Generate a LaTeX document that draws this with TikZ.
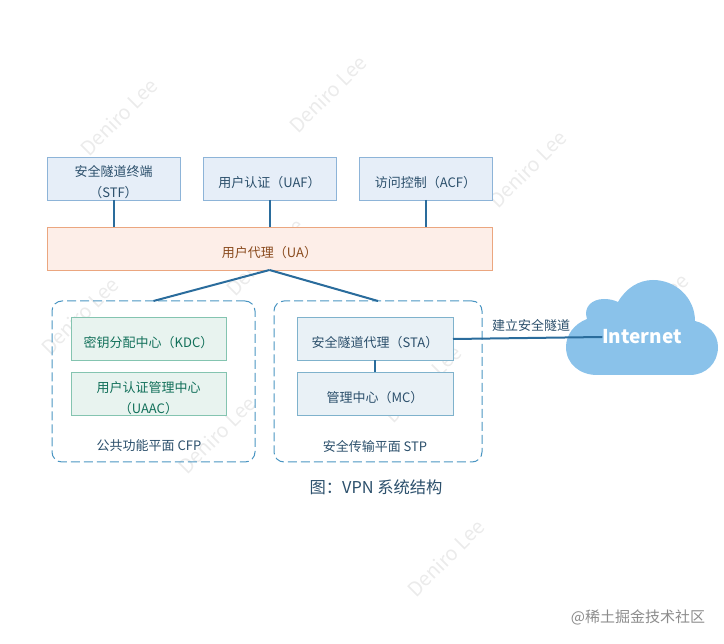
\documentclass[tikz,border=0pt]{standalone}
\usepackage{xcolor}
\usepackage{fontspec}
\setmainfont{Noto Sans CJK SC}
\usepackage{tikz}
\usetikzlibrary{
  positioning,
  calc
}
\definecolor{vpnLine}{HTML}{2A6C9C}
\definecolor{vpnInk}{HTML}{2B4F6B}
\definecolor{vpnDash}{HTML}{4A95C2}
\definecolor{vpnCloud}{HTML}{8AC2EA}
\definecolor{vpnBlueFill}{HTML}{E6EEF8}
\definecolor{vpnBlueEdge}{HTML}{8DB4D8}
\definecolor{vpnPaleFill}{HTML}{E9F1F6}
\definecolor{vpnPaleEdge}{HTML}{7FB2CC}
\definecolor{vpnOrangeFill}{HTML}{FDEEE8}
\definecolor{vpnOrangeEdge}{HTML}{EBA67F}
\definecolor{vpnOrangeInk}{HTML}{8A4B1E}
\definecolor{vpnGreenFill}{HTML}{E8F3EF}
\definecolor{vpnGreenEdge}{HTML}{84C4B0}
\definecolor{vpnGreenInk}{HTML}{12705A}
\definecolor{vpnMark}{HTML}{EBEBEB}
\newcommand{\lowline}{\rule{0pt}{19pt}}
\tikzset{
  vpnnode/.style={
    draw, outer sep=0pt, inner sep=0pt, minimum height=43pt, line width=0.8pt,
    font=\fontsize{13}{21}\selectfont, align=center
  },
  funcbox/.style={vpnnode, fill=vpnBlueFill, draw=vpnBlueEdge, text=vpnInk, minimum width=133pt},
  agentbox/.style={vpnnode, fill=vpnOrangeFill, draw=vpnOrangeEdge, text=vpnOrangeInk, minimum width=445pt},
  cfpbox/.style={vpnnode, fill=vpnGreenFill, draw=vpnGreenEdge, text=vpnGreenInk, minimum width=155pt},
  stpbox/.style={vpnnode, fill=vpnPaleFill, draw=vpnPaleEdge, text=vpnInk, minimum width=156pt},
  plane/.style={
    draw=vpnDash, dash pattern=on 9pt off 4pt, rounded corners=10pt, line width=1pt,
    outer sep=0pt, minimum height=161pt
  },
  planetag/.style={font=\fontsize{13}{15}\selectfont, text=vpnInk},
  link/.style={line width=2pt, vpnLine},
  wmark/.style={font=\fontsize{20}{20}\selectfont, text=vpnMark, rotate=45}
}

\begin{document}
\begin{tikzpicture}[x=1pt, y=-1pt]
  \useasboundingbox (0,0) rectangle (724,644);
  % watermarks
  \foreach \x/\y in {119/117, 328/94, 528/169, 80/316, 265/257, 217/435, 423/384, 650/312, 446/558}{
    \node[wmark] at (\x,\y) {Deniro Lee};
  }
  % top row
  \node[funcbox] (stf) at (113.5,178.5) {\lowline 安全隧道终端\\（STF）};
  \node[funcbox, right=23pt of stf] (uaf) {\lowline 用户认证（UAF）};
  \node[funcbox, right=23pt of uaf] (acf) {\lowline 访问控制（ACF）};
  \node[agentbox] (ua) at (269.5,248.5) {\lowline 用户代理（UA）};
  % planes
  \node[plane, minimum width=203pt] (cfp) at (153.5,381.5) {};
  \node[plane, minimum width=208pt] (stp) at (378,381.5) {};
  \node[cfpbox] (kdc) at (148.5,339) {\lowline 密钥分配中心（KDC）};
  \node[cfpbox, below=12pt of kdc] (uaac) {\lowline 用户认证管理中心\\（UAAC）};
  \node[stpbox] (sta) at (375,339) {\lowline 安全隧道代理（STA）};
  \node[stpbox, below=12pt of sta] (mc) {\lowline 管理中心（MC）};
  \node[planetag] (cfptag) at (149,446) {公共功能平面 CFP};
  \node[planetag] (stptag) at (375,446) {安全传输平面 STP};
  \node[font=\fontsize{16.3}{18}\selectfont, text=vpnInk] (title) at (376,487) {图：VPN 系统结构};
  % cloud
  \fill[vpnCloud] (597,375) .. controls (580,375) and (566,364) .. (566,347)
    .. controls (566,335) and (574,324) .. (587,319)
    .. controls (583,307) and (592,299) .. (604,299)
    .. controls (609,299) and (614,300) .. (618,302)
    .. controls (626,288) and (639,280) .. (653,280)
    .. controls (676,280) and (695,298) .. (695,321)
    .. controls (708,324) and (718,334) .. (718,347)
    .. controls (718,363) and (706,375) .. (690,375) -- cycle;
  \node[font=\fontsize{19}{21}\selectfont\bfseries, text=white, inner sep=0pt, outer sep=0pt] (inet) at (642,337) {Internet};
  \node[font=\fontsize{13}{15}\selectfont, text=vpnInk] (tunnel) at (531,325) {建立安全隧道};
  % links
  \draw[link] (stf.south) -- (stf.south |- ua.north);
  \draw[link] (uaf.south) -- (uaf.south |- ua.north);
  \draw[link] (acf.south) -- (acf.south |- ua.north);
  \draw[link] (ua.south) -- (cfp.north);
  \draw[link] (ua.south) -- (stp.north);
  \draw[link] (sta.south) -- (mc.north);
  \draw[link] (sta.east) -- (inet.west);
  \node[font=\fontsize{15}{17}\selectfont, text=black!45] (site) at (638,617) {@稀土掘金技术社区};
\end{tikzpicture}
\end{document}
